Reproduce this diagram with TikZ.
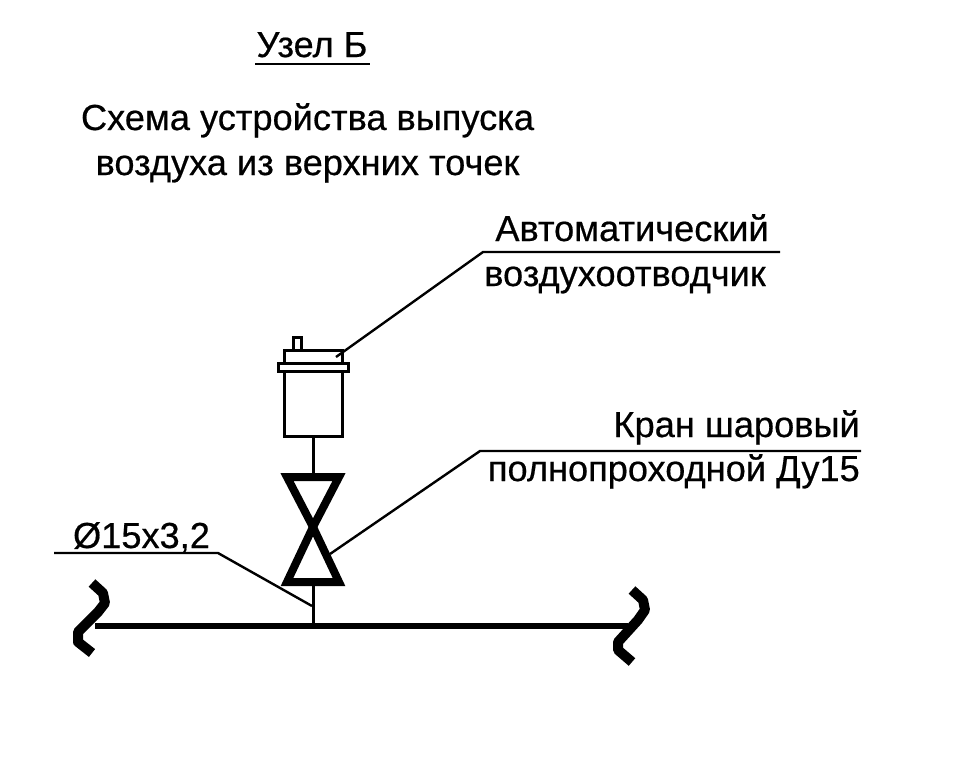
\documentclass[tikz,border=0pt]{standalone}
\usepackage{fontspec}
\setmainfont{Liberation Sans}
\newfontfamily\labelfont[RawFeature={embolden=0.5}]{Liberation Sans}
\tikzstyle{label}=[inner sep=0pt,font=\labelfont\fontsize{36.2}{42}\selectfont]
\tikzstyle{part}=[shape=rectangle,draw,line width=3pt,inner sep=0pt,fill=white]
\tikzstyle{leader}=[line width=2.4pt]
\tikzstyle{stem}=[line width=3pt]
\tikzstyle{valve}=[line width=8pt,miter limit=10]
\tikzstyle{pipe}=[line width=6pt]
\tikzstyle{breakmark}=[line width=10pt,line join=round]

\begin{document}
\begin{tikzpicture}[x=1pt,y=-1pt]
\useasboundingbox (0,0) rectangle (955,764);
% title
\node[label,anchor=base] (title) at (312,57) {Узел Б};
\coordinate (title_l) at (255,64);
\coordinate (title_r) at (370,64);
\draw[leader] (title_l) -- (title_r);
\node[label,anchor=base] (head1) at (307.5,130) {Схема устройства выпуска};
\node[label,anchor=base] (head2) at (307.5,175) {воздуха из верхних точек};
% air vent
\node[part,minimum width=8pt,minimum height=14pt] (nipple) at (297,344) {};
\node[part,minimum width=58pt,minimum height=16pt] (cap) at (313,358) {};
\node[part,minimum width=58pt,minimum height=66pt] (body) at (313,403) {};
\node[part,minimum width=70pt,minimum height=8pt] (flange) at (313,367) {};
% ball valve
\coordinate (v_tl) at (287,477);
\coordinate (v_tr) at (339,477);
\coordinate (v_m) at (313,527);
\coordinate (v_bl) at (287,582);
\coordinate (v_br) at (339,582);
\coordinate (v_top) at (313,474);
\coordinate (v_bot) at (313,585);
\draw[valve] (v_tl) -- (v_tr) -- (v_m) -- cycle;
\draw[valve] (v_bl) -- (v_br) -- (v_m) -- cycle;
\draw[stem] (body.south) -- (v_top);
% main pipe
\coordinate (p_l) at (95,626);
\coordinate (p_r) at (628,626);
\coordinate (p_t) at (313,626);
\draw[pipe] (p_l) -- (p_r);
\draw[stem] (v_bot) -- (p_t);
\draw[breakmark] (92,583) -- (103,593) -- (105,603) -- (98,612) -- (78,632) -- (78,642) -- (92,653);
\draw[breakmark] (632,590) -- (643,600) -- (645,610) -- (638,620) -- (618,642) -- (618,650) -- (632,662);
% vent label
\node[label,anchor=base] (vent1) at (632,241) {Автоматический};
\node[label,anchor=base] (vent2) at (625,286) {воздухоотводчик};
\coordinate (vent_k) at (483,252);
\coordinate (vent_e) at (780,252);
\coordinate (vent_p) at (336,357);
\draw[leader] (vent_p) -- (vent_k) -- (vent_e);
% valve label
\node[label,anchor=base east] (tap1) at (860,437) {Кран шаровый};
\node[label,anchor=base east] (tap2) at (860,481) {полнопроходной Ду15};
\coordinate (tap_k) at (480,451);
\coordinate (tap_e) at (861,451);
\coordinate (tap_p) at (330,554);
\draw[leader] (tap_p) -- (tap_k) -- (tap_e);
% pipe label
\node[label,anchor=base] (dia) at (141.5,548) {Ø15х3,2};
\coordinate (dia_s) at (54,553);
\coordinate (dia_k) at (218,553);
\coordinate (dia_p) at (312,606);
\draw[leader] (dia_s) -- (dia_k) -- (dia_p);
\end{tikzpicture}
\end{document}
